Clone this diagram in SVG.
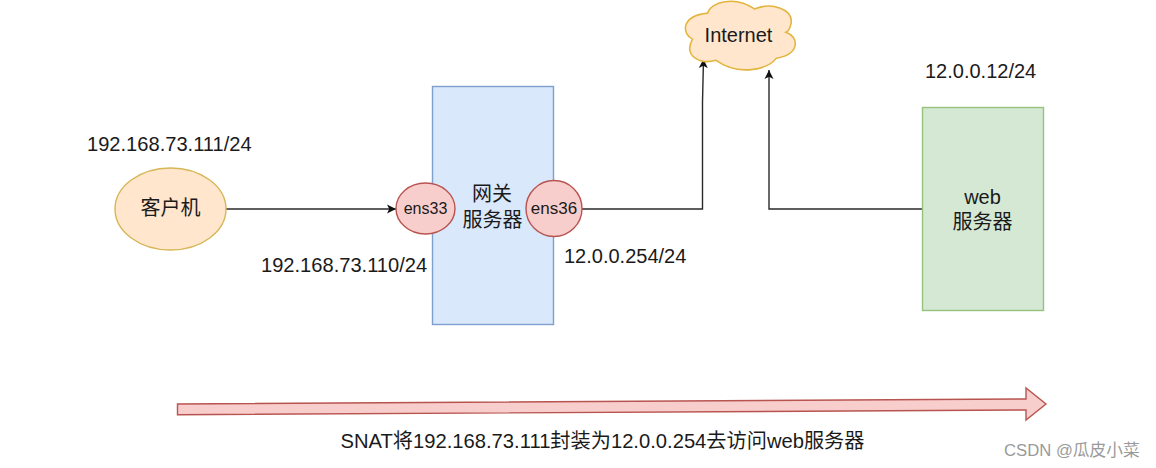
<svg xmlns="http://www.w3.org/2000/svg" width="1156" height="468" viewBox="0 0 1156 468">
<style>
text{font-family:"Liberation Sans","Noto Sans CJK SC",sans-serif;fill:#1a1a1a;font-size:20px}
.m{text-anchor:middle}
.conn{fill:none;stroke:#2a2a2a;stroke-width:1.4}
.red{fill:#f8cecc;stroke:#b85450;stroke-width:1.4}
</style>
<defs><marker id="a" markerWidth="11" markerHeight="11" refX="9" refY="5.500" orient="auto" markerUnits="userSpaceOnUse"><path d="M0 1L9 5.500L0 10L2.200 5.500Z" fill="#111"/></marker></defs>
<rect width="1156" height="468" fill="#fff"/>
<g id="gateway"><rect x="432.500" y="86.500" width="121" height="238" fill="#dae8fc" stroke="#7f9fcc" stroke-width="1.400"/>
<text class="m" x="492" y="201">网关</text><text class="m" x="492.500" y="227">服务器</text></g>
<g id="connectors">
<path class="conn" d="M226 209H396" marker-end="url(#a)"/>
<path class="conn" d="M582 209H702.500V102L703.500 59" marker-end="url(#a)"/>
<path class="conn" d="M922 209H769V70" marker-end="url(#a)"/>
</g>
<g id="internet"><path transform="translate(741 36) scale(1.040) translate(-741 -36)" d="M709 14C711.700 3.300 735 -3.300 754 10C770 3.300 790.700 10 789.300 23.300C788.300 28.300 786 31.700 784.300 32.300C796.700 36.700 798.300 53.300 775 57.300C766.700 68.300 738.300 75 716.700 59.300C703.300 63.300 685 56.700 694.300 39C685 35 681.700 16.700 709 14Z" fill="#ffe6cc" stroke="#e3b53e" stroke-width="1.500"/>
<text class="m" x="738.500" y="42">Internet</text></g>
<g id="client"><ellipse cx="170.500" cy="209" rx="55.500" ry="41" fill="#ffe6cc" stroke="#d6b656" stroke-width="1.400"/><text class="m" x="170.500" y="215">客户机</text></g>
<g id="ens33"><ellipse cx="425.500" cy="208.500" rx="29.500" ry="25.500" class="red"/><text class="m" x="425.500" y="214" style="font-size:16px">ens33</text></g>
<g id="ens36"><ellipse cx="554" cy="208.500" rx="28" ry="28" class="red"/><text class="m" x="554" y="214" style="font-size:17px">ens36</text></g>
<g id="web"><rect x="922.500" y="107.500" width="121" height="203" fill="#d5e8d4" stroke="#97c27d" stroke-width="1.400"/>
<text class="m" x="982.500" y="204">web</text><text class="m" x="982.500" y="229">服务器</text></g>
<g id="labels">
<text x="87" y="151" style="font-size:20.100px">192.168.73.111/24</text>
<text x="261" y="272" style="font-size:20.100px">192.168.73.110/24</text>
<text x="564" y="263">12.0.0.254/24</text>
<text x="925" y="78">12.0.0.12/24</text>
<text class="m" x="602.500" y="448" style="font-size:20.200px">SNAT将192.168.73.111封装为12.0.0.254去访问web服务器</text>
</g>
<g id="snat-arrow"><path class="red" d="M177.500 404L1026 399V388L1046 404L1026 420V410L177.500 414.700Z"/></g>
<text id="watermark" x="1004" y="456" style="font-size:16.700px;fill:#9a9a9a">CSDN @瓜皮小菜</text>
</svg>
